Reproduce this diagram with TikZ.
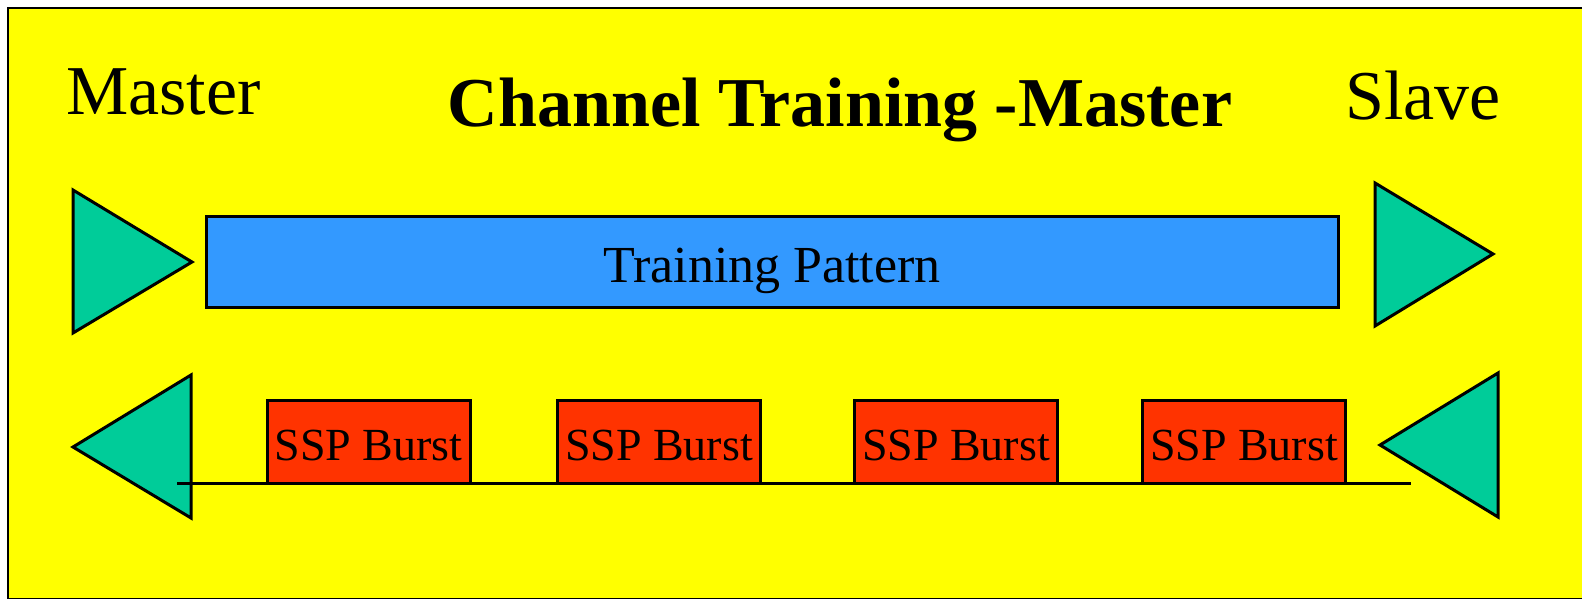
\documentclass[tikz,border=0pt]{standalone}
\usepackage{fontspec}
\setmainfont{Liberation Serif}
\definecolor{panel}{HTML}{FFFF00}
\definecolor{arrowfill}{HTML}{00CC99}
\definecolor{patternfill}{HTML}{3399FF}
\definecolor{burstfill}{HTML}{FF3300}
\tikzset{
  frame/.style={draw=black, line width=2.5pt, fill=panel},
  pointer/.style={draw=black, line width=3pt, fill=arrowfill, line join=miter},
  patternbox/.style={draw=black, line width=3pt, fill=patternfill, inner sep=0pt,
    minimum width=1132pt, minimum height=91pt, text height=41pt, text depth=0pt,
    font=\fontsize{52}{60}\selectfont},
  burstbox/.style={draw=black, line width=3pt, fill=burstfill, inner sep=0pt,
    minimum width=203pt, minimum height=83pt, text height=37pt, text depth=0pt,
    font=\fontsize{46}{54}\selectfont},
  heading/.style={inner sep=0pt, anchor=base, font=\fontsize{70}{84}\selectfont\bfseries},
  endlabel/.style={inner sep=0pt, anchor=base west, font=\fontsize{70}{84}\selectfont},
  wire/.style={draw=black, line width=3pt}
}
\begin{document}
\begin{tikzpicture}[x=1pt, y=-1pt]
  \useasboundingbox (0,0) rectangle (1582,599);
  \clip (0,0) rectangle (1582,599);
  \fill[white] (0,0) rectangle (1582,599);
  % panel
  \path[frame] (8,8) rectangle (1586,599.5);

  % labels
  \node[endlabel] (master) at (66,115) {Master};
  \node[endlabel] (slave) at (1345,120) {Slave};
  \node[heading] (title) at (840,127) {Channel Training -Master};

  % forward direction: master to slave
  \path[pointer] (73,190) -- (192,262) -- (73,333) -- cycle;
  \node[patternbox] (pattern) at (772,261.5) {Training Pattern};
  \path[pointer] (1375,183) -- (1493,254) -- (1375,326) -- cycle;

  % return direction: slave to master
  \path[pointer] (191,375) -- (73,447) -- (191,518) -- cycle;
  \path[pointer] (1498,373) -- (1380,445) -- (1498,517) -- cycle;

  \coordinate (lineL) at (177,483);
  \coordinate (lineR) at (1411,483);
  \draw[wire] (lineL) -- (lineR);

  \node[burstbox] (b1) at (368.5,441.5) {SSP Burst};
  \node[burstbox] (b2) at (659,441.5) {SSP Burst};
  \node[burstbox] (b3) at (956,441.5) {SSP Burst};
  \node[burstbox] (b4) at (1244,441.5) {SSP Burst};
\end{tikzpicture}
\end{document}
